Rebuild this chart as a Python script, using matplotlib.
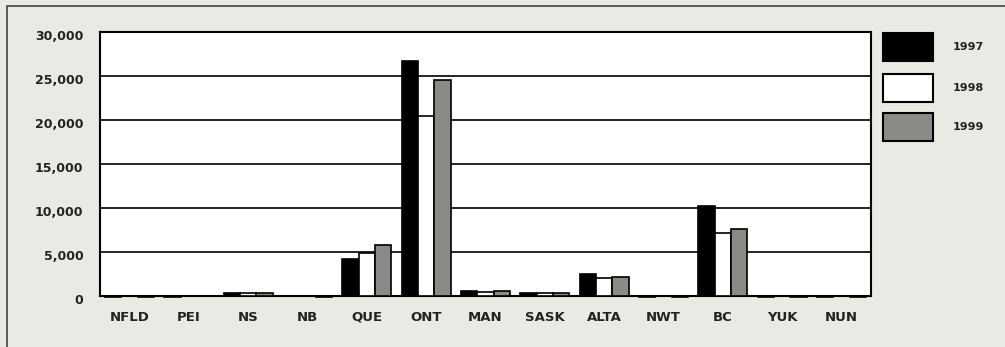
import numpy as np
import matplotlib
matplotlib.use("Agg")
import matplotlib.pyplot as plt
import matplotlib.transforms as mtransforms
from matplotlib.patches import Rectangle

# provinces / territories along the x axis
provinces = ["NFLD", "PEI", "NS", "NB", "QUE", "ONT", "MAN",
             "SASK", "ALTA", "NWT", "BC", "YUK", "NUN"]
years = ["1997", "1998", "1999"]

vals_1997 = [-150, -150, 300, 0, 4100, 26700, 550, 300, 2400, -150, 10200, -150, -150]
vals_1998 = [0, 0, 300, 0, 4800, 20400, 450, 250, 2000, 0, 7150, 0, 0]
vals_1999 = [-150, 0, 250, -150, 5800, 24500, 550, 250, 2150, -150, 7600, -150, -150]

y_ticks = [0, 5000, 10000, 15000, 20000, 25000, 30000]

bg = "#ebe9e3"
bar_colors = ["black", "white", "#8b8a86"]

fig = plt.figure(figsize=(10.05, 3.47), dpi=100, facecolor=bg)
ax = fig.add_axes([0.0995, 0.1484, 0.7672, 0.7594])
ax.set_facecolor("white")

# outer frame (left and top edges show)
fig.patches.append(Rectangle((7 / 1005, -0.1), 1.2, 1.1 - 6 / 347,
                             transform=fig.transFigure, fill=False,
                             edgecolor="#444444", linewidth=1.2))

x = np.arange(len(provinces))
w = 0.275
series = [vals_1997, vals_1998, vals_1999]
for i, vals in enumerate(series):
    ax.bar(x + (i - 1) * w, vals, width=w, color=bar_colors[i],
           edgecolor="black", linewidth=1.2, zorder=3, clip_on=False)

ax.set_xlim(-0.5, len(provinces) - 0.5)
ax.set_ylim(0, 30000)
ax.set_yticks(y_ticks)
ax.set_yticklabels([f"{v:,}" for v in y_ticks])
ax.set_xticks(x)
ax.set_xticklabels(provinces)

ax.yaxis.grid(True, color="black", linewidth=1.2)
ax.set_axisbelow(True)
for s in ax.spines.values():
    s.set_linewidth(1.5)

ax.tick_params(axis="both", length=0)
ax.tick_params(axis="y", pad=12, labelsize=9)
ax.tick_params(axis="x", pad=11, labelsize=9.5)
for lab in ax.get_yticklabels() + ax.get_xticklabels():
    lab.set_fontweight("bold")
    lab.set_color("#222222")

# nudge y labels a little below their gridlines
offset = mtransforms.ScaledTranslation(0, -3.5 / 100, fig.dpi_scale_trans)
for lab in ax.get_yticklabels():
    lab.set_transform(lab.get_transform() + offset)

# legend drawn as boxes at the right
box_tops = [33, 74, 113]
for yr, col, top in zip(years, bar_colors, box_tops):
    fig.patches.append(Rectangle((883 / 1005, 1 - (top + 28) / 347), 50 / 1005, 28 / 347,
                                 transform=fig.transFigure, facecolor=col,
                                 edgecolor="black", linewidth=1.5))
    fig.text(953 / 1005, 1 - (top + 14) / 347, yr, fontsize=8, fontweight="bold",
             color="#222222", va="center", ha="left")

fig.savefig("out.png", dpi=100, facecolor=bg)
